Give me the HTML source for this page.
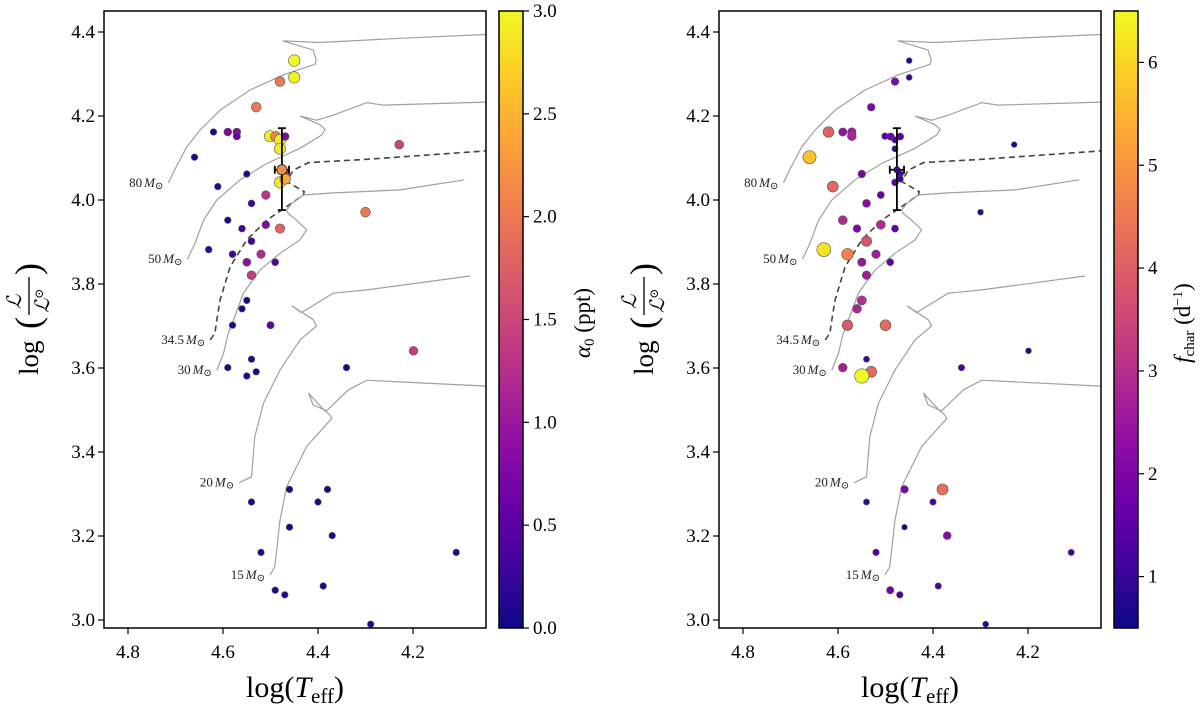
<!DOCTYPE html>
<html><head><meta charset="utf-8"><style>
html,body{margin:0;padding:0;background:#fff;font-family:"Liberation Serif","DejaVu Serif",serif;}
svg{display:block;}
svg text{font-family:"Liberation Serif","DejaVu Serif",serif;}
</style></head><body>
<svg id="chart" width="1200" height="704" viewBox="0 0 1200 704" xmlns="http://www.w3.org/2000/svg" font-family="Liberation Serif, DejaVu Serif, serif"></svg>
<script>
// ---- data ----
const logTeff = [4.450,4.450,4.480,4.530,4.620,4.590,4.571,4.571,4.501,4.489,4.480,4.469,4.480,4.476,4.469,4.480,4.469,4.229,4.660,4.550,4.611,4.510,4.540,4.300,4.590,4.560,4.510,4.480,4.540,4.630,4.580,4.520,4.550,4.490,4.540,4.550,4.560,4.580,4.500,4.199,4.540,4.590,4.530,4.550,4.340,4.460,4.380,4.540,4.400,4.460,4.370,4.520,4.109,4.490,4.470,4.389,4.289];
const logL = [4.332,4.292,4.282,4.221,4.162,4.162,4.162,4.152,4.152,4.151,4.143,4.151,4.122,4.072,4.062,4.042,4.050,4.132,4.102,4.062,4.032,4.012,3.992,3.971,3.952,3.932,3.941,3.932,3.902,3.882,3.871,3.871,3.852,3.852,3.821,3.761,3.741,3.702,3.702,3.641,3.621,3.601,3.591,3.581,3.601,3.311,3.311,3.281,3.281,3.221,3.201,3.161,3.161,3.071,3.060,3.081,2.990];
const alpha0 = [3.0,2.95,2.0,2.0,0.1,0.8,0.8,0.6,2.9,2.1,2.9,0.8,2.9,2.2,1.2,2.9,2.4,1.5,0.1,0.1,0.1,1.3,0.3,2.0,0.1,0.3,0.8,1.8,0.3,0.2,0.3,1.2,0.9,0.4,1.4,0.1,0.1,0.1,0.5,1.4,0.1,0.1,0.1,0.1,0.1,0.1,0.1,0.1,0.1,0.1,0.1,0.1,0.1,0.1,0.1,0.1,0.1];
const fchar = [0.8,0.9,2.0,2.0,4.1,2.4,2.6,2.8,1.3,1.8,1.2,1.6,1.0,1.0,1.2,1.5,1.2,0.7,5.7,2.0,4.2,1.7,2.2,0.8,2.9,2.0,2.9,1.6,3.8,6.2,4.7,2.6,2.5,1.6,2.6,3.0,2.8,3.9,4.2,0.8,1.0,2.7,4.2,6.5,1.2,2.0,4.3,1.0,1.2,0.7,2.2,1.3,1.1,1.8,1.3,1.2,0.9];
const specialIndex = 13;
const errLogL = [4.171,3.976];
const errTeff = 0.015;
const xTicks = [4.8,4.6,4.4,4.2];
const yTicks = [4.4,4.2,4.0,3.8,3.6,3.4,3.2,3.0];
const alphaTicks = [0.0,0.5,1.0,1.5,2.0,2.5,3.0];
const fTicks = [1,2,3,4,5,6];
const trackMasses = ["80","50","34.5","30","20","15"];
const trackDashed = [false,false,true,false,false,false];
const tracks = [
 [[4.715,4.041],[4.698,4.080],[4.676,4.127],[4.648,4.167],[4.606,4.214],[4.543,4.262],[4.473,4.298],[4.406,4.323],[4.404,4.333],[4.410,4.357],[4.474,4.379],[4.396,4.375],[4.227,4.385],[4.046,4.394]],
 [[4.675,3.859],[4.659,3.897],[4.641,3.952],[4.613,4.000],[4.564,4.048],[4.508,4.087],[4.438,4.123],[4.392,4.155],[4.385,4.168],[4.396,4.179],[4.438,4.200],[4.403,4.190],[4.368,4.202],[4.297,4.232],[4.263,4.226],[4.046,4.233]],
 [[4.627,3.667],[4.617,3.683],[4.613,3.714],[4.606,3.762],[4.585,3.841],[4.550,3.905],[4.508,3.952],[4.466,3.984],[4.431,4.012],[4.429,4.020],[4.466,4.044],[4.452,4.071],[4.420,4.089],[4.297,4.097],[4.046,4.117]],
 [[4.613,3.595],[4.599,3.635],[4.589,3.683],[4.578,3.714],[4.557,3.778],[4.522,3.833],[4.480,3.873],[4.438,3.905],[4.424,3.929],[4.445,3.952],[4.463,3.968],[4.466,3.976],[4.455,3.992],[4.431,4.012],[4.368,4.017],[4.227,4.024],[4.092,4.048]],
 [[4.566,3.327],[4.540,3.341],[4.533,3.436],[4.515,3.516],[4.480,3.595],[4.438,3.667],[4.403,3.700],[4.410,3.715],[4.455,3.748],[4.435,3.732],[4.368,3.778],[4.297,3.786],[4.080,3.819]],
 [[4.501,3.107],[4.491,3.127],[4.480,3.238],[4.466,3.317],[4.424,3.413],[4.371,3.480],[4.375,3.488],[4.389,3.502],[4.420,3.540],[4.410,3.512],[4.382,3.498],[4.336,3.548],[4.297,3.571],[4.227,3.567],[4.046,3.557]]
];
// ---- helpers ----
const NS="http://www.w3.org/2000/svg";
const svg=document.getElementById('chart');
const FF='"Liberation Serif", "DejaVu Serif", serif';
function mk(tag,attrs,parent){const e=document.createElementNS(NS,tag);for(const k in attrs)e.setAttribute(k,attrs[k]);if(tag==='text')e.style.fontFamily=FF;(parent||svg).appendChild(e);return e;}
const plasma=["#0d0887","#41049d","#6a00a8","#8f0da4","#b12a90","#cc4778","#e16462","#f2844b","#fca636","#fcce25","#f0f921"];
function hex(h){return [parseInt(h.slice(1,3),16),parseInt(h.slice(3,5),16),parseInt(h.slice(5,7),16)];}
function cmap(t){t=Math.max(0,Math.min(1,t));const p=t*10,i=Math.min(9,Math.floor(p)),f=p-i;const a=hex(plasma[i]),b=hex(plasma[i+1]);return 'rgb('+a.map((v,k)=>Math.round(v+(b[k]-v)*f)).join(',')+')';}
const PL=104,PR=486,PT=11,PB=628;
function drawPanel(ox,vals,vmin,vmax,cTicks,cFmt,rFn,name){
  const X=v=>ox+128+(4.8-v)*475;
  const Y=v=>32+(4.4-v)*420;
  const g=mk('g',{});
  
  
  tracks.forEach((tr,ti)=>{
    const p=mk('polyline',{points:tr.map(q=>X(q[0]).toFixed(1)+','+Y(q[1]).toFixed(1)).join(' '),fill:'none',stroke:trackDashed[ti]?'#444':'#a0a0a0','stroke-width':trackDashed[ti]?1.6:1.2,'stroke-dasharray':trackDashed[ti]?'6,4':'none'},g);
    
    
    const t=mk('text',{x:X(tr[0][0])-5,y:Y(tr[0][1])+4,'text-anchor':'end','font-size':13,fill:'#222'},g);
    
    
    t.innerHTML=trackMasses[ti]+'<tspan font-style="italic" dx="2">M</tspan><tspan font-size="10" dy="2">⊙</tspan>';
  });
  vals.forEach((v,i)=>{
    if(i===specialIndex) return;
    const c=mk('circle',{cx:X(logTeff[i]).toFixed(1),cy:Y(logL[i]).toFixed(1),r:rFn(v).toFixed(2),fill:cmap((v-vmin)/(vmax-vmin)),stroke:'#555','stroke-width':0.6},g);
    
    
  });
  const si=specialIndex,sx=X(logTeff[si]),sy=Y(logL[si]);
  const eb=mk('g',{stroke:'#000','stroke-width':1.8},g);
  
  
  mk('line',{x1:sx,y1:Y(errLogL[0]),x2:sx,y2:Y(errLogL[1])},eb);
  mk('line',{x1:sx-4,y1:Y(errLogL[0]),x2:sx+4,y2:Y(errLogL[0])},eb);
  mk('line',{x1:sx-4,y1:Y(errLogL[1]),x2:sx+4,y2:Y(errLogL[1])},eb);
  mk('line',{x1:X(logTeff[si]+errTeff),y1:sy,x2:X(logTeff[si]-errTeff),y2:sy},eb);
  mk('line',{x1:X(logTeff[si]+errTeff),y1:sy-4,x2:X(logTeff[si]+errTeff),y2:sy+4},eb);
  mk('line',{x1:X(logTeff[si]-errTeff),y1:sy-4,x2:X(logTeff[si]-errTeff),y2:sy+4},eb);
  const sc=mk('circle',{cx:sx,cy:sy,r:rFn(vals[si]),fill:cmap((vals[si]-vmin)/(vmax-vmin)),stroke:'#222','stroke-width':0.8},g);
  
  
  const fr=mk('rect',{x:ox+PL,y:PT,width:PR-PL,height:PB-PT,fill:'none',stroke:'#000','stroke-width':1.5},g);
  
  
  xTicks.forEach(v=>{
    mk('line',{x1:X(v),y1:PB,x2:X(v),y2:PB+6,stroke:'#000','stroke-width':1.2},g);
    const t=mk('text',{x:X(v),y:PB+30,'text-anchor':'middle','font-size':19},g);
    
    
    t.textContent=v.toFixed(1);
  });
  yTicks.forEach(v=>{
    mk('line',{x1:ox+PL-6,y1:Y(v),x2:ox+PL,y2:Y(v),stroke:'#000','stroke-width':1.2},g);
    const t=mk('text',{x:ox+PL-9,y:Y(v)+6,'text-anchor':'end','font-size':19},g);
    
    
    t.textContent=v.toFixed(1);
  });
  const xt=mk('text',{x:ox+295,y:697,'text-anchor':'middle','font-size':30},g);
  
  
  xt.innerHTML='log(<tspan font-style="italic">T</tspan><tspan font-size="21" dy="6">eff</tspan><tspan dy="-6">)</tspan>';
  const yt=mk('g',{transform:'translate('+(ox+32)+',319) rotate(-90)'},g);
  
  
  mk('text',{x:-56,y:6,'font-size':27},yt).textContent='log';
  mk('text',{x:-10,y:8,'font-size':36},yt).textContent='(';
  mk('text',{x:10,y:-11,'font-size':20,'font-style':'italic'},yt).textContent='ℒ';
  mk('line',{x1:4,y1:-3,x2:42,y2:-3,stroke:'#000','stroke-width':1.3},yt);
  const dn=mk('text',{x:6,y:17,'font-size':20,'font-style':'italic'},yt);dn.innerHTML='ℒ<tspan font-size="12" font-style="normal" dy="-6">⊙</tspan>';
  mk('text',{x:44,y:8,'font-size':36},yt).textContent=')';
  const cx0=ox+499,cw=24;
  const gid='grad'+ox;
  const defs=mk('defs',{},g);
  const lg=mk('linearGradient',{id:gid,x1:0,y1:1,x2:0,y2:0},defs);
  for(let k=0;k<=10;k++) mk('stop',{offset:k/10,'stop-color':plasma[k]},lg);
  const cb=mk('rect',{x:cx0,y:PT,width:cw,height:PB-PT,fill:'url(#'+gid+')',stroke:'#000','stroke-width':1.5},g);
  
  
  const CY=v=>PB-(v-vmin)/(vmax-vmin)*(PB-PT);
  cTicks.forEach(v=>{
    mk('line',{x1:cx0+cw,y1:CY(v),x2:cx0+cw+6,y2:CY(v),stroke:'#000','stroke-width':1.2},g);
    const t=mk('text',{x:cx0+cw+10,y:CY(v)+6,'font-size':19},g);
    
    
    t.textContent=cFmt(v);
  });
  return g;
}
drawPanel(0,alpha0,0,3,alphaTicks,v=>v.toFixed(1),v=>3.2+0.85*v,'alpha');
drawPanel(615,fchar,0.5,6.5,fTicks,v=>String(v),v=>2.3+0.75*v,'fchar');
const lt=mk('text',{transform:'translate(590,323) rotate(-90)','text-anchor':'middle','font-size':23});


lt.innerHTML='<tspan font-style="italic">α</tspan><tspan font-size="15" dy="4">0</tspan><tspan dy="-4"> (ppt)</tspan>';
const rt=mk('text',{transform:'translate(1190,323) rotate(-90)','text-anchor':'middle','font-size':23});


rt.innerHTML='<tspan font-style="italic">f</tspan><tspan font-size="15" dy="4">char</tspan><tspan dy="-4"> (d</tspan><tspan font-size="14" dy="-8">−1</tspan><tspan dy="8">)</tspan>';
</script>
</body></html>
